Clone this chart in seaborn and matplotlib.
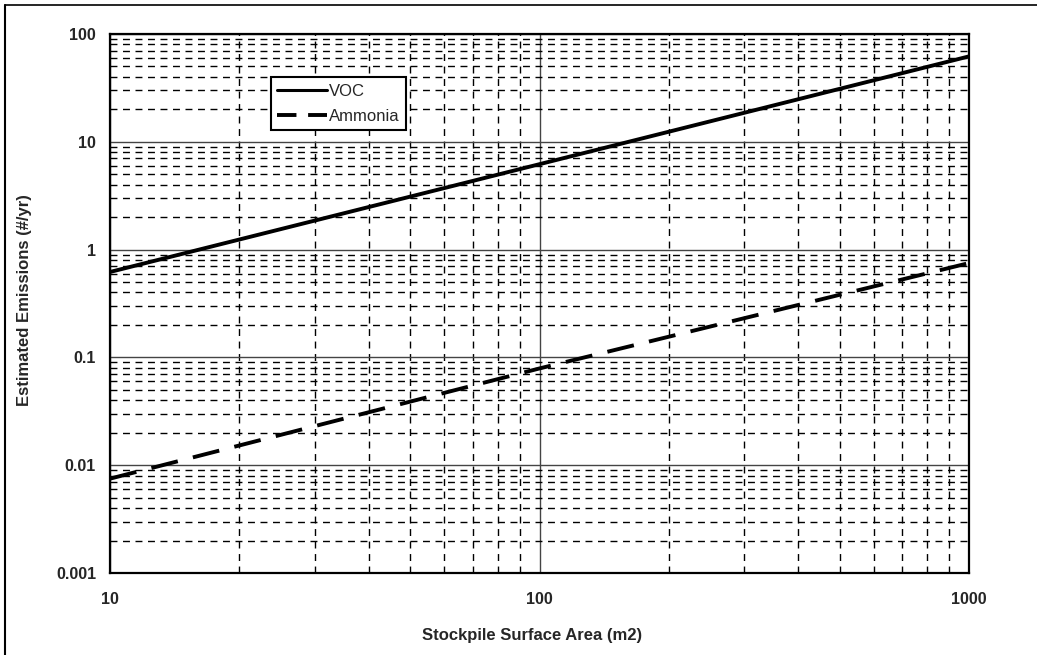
import matplotlib
matplotlib.use("Agg")
import matplotlib.pyplot as plt
import seaborn as sns
import pandas as pd
import numpy as np
from matplotlib.ticker import LogLocator, NullFormatter, FixedLocator
from matplotlib.lines import Line2D

# data
area = [10, 100, 1000]
voc = [0.62, 6.2, 62]
ammonia = [0.0075, 0.079, 0.75]
series_names = ["VOC", "Ammonia"]
xticks = [10, 100, 1000]
xtick_labels = ["10", "100", "1000"]
yticks = [0.001, 0.01, 0.1, 1, 10, 100]
ytick_labels = ["0.001", "0.01", "0.1", "1", "10", "100"]

df = pd.DataFrame({
    "area": area * 2,
    "emis": voc + ammonia,
    "series": [series_names[0]] * len(area) + [series_names[1]] * len(area),
})

sns.set_theme(style="white")
plt.rcParams["font.family"] = ["Liberation Sans", "DejaVu Sans"]

fig = plt.figure(figsize=(10.37, 6.55), dpi=100)
ax = fig.add_axes([110 / 1037, 1 - 573 / 655, 859 / 1037, 539 / 655])

sns.lineplot(data=df, x="area", y="emis", hue="series", style="series",
             palette=["black", "black"], dashes={"VOC": "", "Ammonia": (7, 4)},
             linewidth=2.8, ax=ax, legend=False)

ax.set_xscale("log")
ax.set_yscale("log")
ax.set_xlim(10, 1000)
ax.set_ylim(0.001, 100)

ax.xaxis.set_major_locator(FixedLocator(xticks))
ax.set_xticklabels(xtick_labels)
ax.yaxis.set_major_locator(FixedLocator(yticks))
ax.set_yticklabels(ytick_labels)
ax.xaxis.set_minor_locator(LogLocator(base=10, subs=np.arange(2, 10)))
ax.yaxis.set_minor_locator(LogLocator(base=10, subs=np.arange(2, 10)))
ax.xaxis.set_minor_formatter(NullFormatter())
ax.yaxis.set_minor_formatter(NullFormatter())

ax.grid(True, which="major", color="#444444", linestyle="-", linewidth=1.0)
ax.grid(True, which="minor", color="black", linestyle=(0, (5, 4)), linewidth=1.0)
ax.set_axisbelow(True)

ax.tick_params(axis="both", which="both", length=0)
ax.tick_params(axis="x", which="major", pad=14, labelsize=11.5)
ax.tick_params(axis="y", which="major", pad=10, labelsize=11.5)
for lab in ax.get_xticklabels() + ax.get_yticklabels():
    lab.set_fontweight("bold")

for s in ax.spines.values():
    s.set_visible(True)
    s.set_color("black")
    s.set_linewidth(1.6)

ax.set_xlabel("Stockpile Surface Area (m2)", fontsize=12, fontweight="bold")
ax.set_ylabel("Estimated Emissions (#/yr)", fontsize=12, fontweight="bold")
ax.xaxis.set_label_coords(0.5 - 7 / 859, -0.102)
ax.yaxis.set_label_coords(-0.091, 0.506)

handles = [Line2D([], [], color="black", linewidth=2.2),
           Line2D([], [], color="black", linewidth=2.8, linestyle=(0, (5, 3)))]
leg = ax.legend(handles, series_names, loc="upper left",
                bbox_to_anchor=(0.187, 0.92), fontsize=12, frameon=True,
                fancybox=False, edgecolor="black", framealpha=1,
                handlelength=3.0, handletextpad=0.1, borderpad=0.4,
                labelspacing=0.6, borderaxespad=0)
leg.get_frame().set_linewidth(1.5)

# outer frame of the scanned page
fig.add_artist(Line2D([5 / 1037, 5 / 1037], [0, 1 - 5 / 655], color="black",
                      linewidth=1.5, transform=fig.transFigure))
fig.add_artist(Line2D([5 / 1037, 1], [1 - 5 / 655, 1 - 5 / 655], color="black",
                      linewidth=1.2, transform=fig.transFigure))

fig.savefig("out.png", dpi=100)
